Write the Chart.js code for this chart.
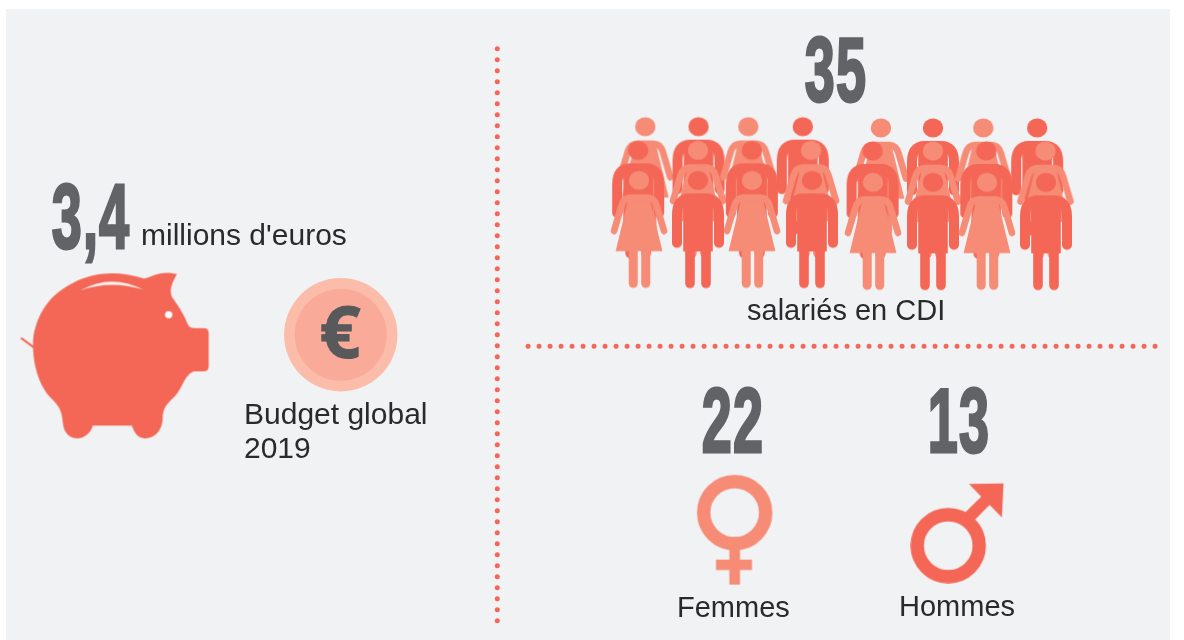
<!DOCTYPE html>
<html lang="fr">
<head>
    <meta charset="UTF-8">
    <title>Budget et salariés 2019</title>
    <script src="https://cdnjs.cloudflare.com/ajax/libs/Chart.js/4.4.1/chart.umd.js"></script>
    <style>
        html, body { margin: 0; padding: 0; background: #fff; overflow: hidden; }
        .stage { position: relative; width: 1184px; height: 640px; }
        .panel { position: absolute; left: 6px; top: 9px; width: 1164px; height: 631px; background: #f1f2f4; }
        canvas { position: absolute; left: 0; top: 0; }
        .big, .label, .euro { position: absolute; white-space: nowrap; }
        .big {
            font-family: "Liberation Sans Narrow", "Liberation Sans", sans-serif;
            font-weight: bold;
            font-size: 90px;
            line-height: 90px;
            color: #626366;
            -webkit-text-stroke: 3px #626366;
            transform: translateX(-50%) scaleX(0.6);
            letter-spacing: 2px;
        }
        .label {
            font-family: "Liberation Sans", Arial, sans-serif;
            font-size: 29px;
            line-height: 34px;
            color: #2a2a2c;
        }
        .label.wide { font-size: 30px; }
        .euro {
            font-family: "Open Sans", sans-serif;
            font-weight: bold;
            font-size: 72px;
            line-height: 72px;
            color: #58595b;
            -webkit-text-stroke: 1px #58595b;
            transform: translateX(-50%);
        }
    </style>
</head>
<body>
<div class="stage">
    <div class="panel"></div>
    <canvas id="infographic" width="1184" height="640"></canvas>
    <div class="big" id="v-budget" style="left:91px;top:172px"></div>
    <div class="big" id="v-total" style="left:836px;top:25px"></div>
    <div class="big" id="v-women" style="left:733px;top:376px"></div>
    <div class="big" id="v-men" style="left:959px;top:376px"></div>
    <div class="label wide" style="left:141px;top:218px">millions d'euros</div>
    <div class="label wide" style="left:244px;top:397px">Budget global<br>2019</div>
    <div class="label" style="left:747px;top:293px">salariés en CDI</div>
    <div class="label" style="left:677px;top:590px">Femmes</div>
    <div class="label" style="left:899px;top:589px">Hommes</div>
    <div class="euro" style="left:340px;top:294px">€</div>
</div>

<script>
    // headline figures
    const budgetMillions = [3.4];
    const staffTotal = [35];
    const staffWomen = [22];
    const staffMen = [13];

    // pictogram rows, axes run 0-100 across the panel
    const backRowX = [54.5, 59.0, 63.2, 67.8, 74.4, 78.8, 83.05, 87.6];
    const backRowY = [27.6, 27.6, 27.6, 27.6, 27.8, 27.8, 27.8, 27.8];
    const midRowX = [53.9, 58.95, 63.5, 68.5, 73.7, 78.8, 83.3, 88.3];
    const midRowY = [31.3, 31.3, 31.3, 31.3, 31.4, 31.4, 31.4, 31.4];
    const frontRowX = [53.97, 58.95, 63.51, 68.58, 73.73, 78.8, 83.36, 88.34];
    const frontRowY = [36.0, 36.0, 36.0, 36.0, 36.3, 36.3, 36.3, 36.3];

    // dotted dividers
    const dividerVX = [42.0, 42.0];
    const dividerVY = [7.6, 97.4];
    const dividerHX = [44.6, 98.1];
    const dividerHY = [54.1, 54.1];

    const DARK = '#f46756';
    const LIGHT = '#f68b76';

    function makeIcon(w, h, draw) {
        const c = document.createElement('canvas');
        c.width = w;
        c.height = h;
        draw(c.getContext('2d'));
        return c;
    }

    // figures are drawn around the head centre at (31, 11)
    const womanIcon = makeIcon(62, 122, function (ctx) {
        ctx.translate(31, 11);
        ctx.fillStyle = LIGHT;
        ctx.strokeStyle = LIGHT;
        ctx.lineCap = 'round';
        ctx.lineJoin = 'round';
        ctx.beginPath();
        ctx.ellipse(0, 0, 10.2, 9.6, 0, 0, Math.PI * 2);
        ctx.fill();
        // dress
        ctx.beginPath();
        ctx.moveTo(-10, 15);
        ctx.lineTo(10, 15);
        ctx.lineTo(23.4, 70.7);
        ctx.lineTo(-23.4, 70.7);
        ctx.closePath();
        ctx.fill();
        // arms
        ctx.lineWidth = 6.6;
        ctx.beginPath();
        ctx.moveTo(-25, 50.5);
        ctx.lineTo(-17.5, 25);
        ctx.quadraticCurveTo(-15, 17, -8, 17);
        ctx.lineTo(8, 17);
        ctx.quadraticCurveTo(15, 17, 17.5, 25);
        ctx.lineTo(25, 50.5);
        ctx.stroke();
        // legs
        ctx.lineWidth = 9;
        ctx.beginPath();
        ctx.moveTo(-5.8, 68);
        ctx.lineTo(-5.8, 103);
        ctx.moveTo(6.7, 68);
        ctx.lineTo(6.7, 103);
        ctx.stroke();
    });

    const manIcon = makeIcon(62, 122, function (ctx) {
        ctx.translate(31, 11);
        ctx.fillStyle = DARK;
        ctx.strokeStyle = DARK;
        ctx.lineCap = 'round';
        ctx.lineJoin = 'round';
        ctx.beginPath();
        ctx.ellipse(0, 0, 10.2, 9.6, 0, 0, Math.PI * 2);
        ctx.fill();
        // shoulders and arms
        ctx.lineWidth = 10;
        ctx.beginPath();
        ctx.moveTo(-21, 62.5);
        ctx.lineTo(-21, 34);
        ctx.quadraticCurveTo(-21, 18, -8, 18);
        ctx.lineTo(8, 18);
        ctx.quadraticCurveTo(21, 18, 21, 34);
        ctx.lineTo(21, 62.5);
        ctx.stroke();
        // trunk
        ctx.fillRect(-14.8, 15, 29.6, 56);
        // legs
        ctx.lineWidth = 9.6;
        ctx.lineCap = 'round';
        ctx.beginPath();
        ctx.moveTo(-8, 68);
        ctx.lineTo(-8, 103);
        ctx.moveTo(8, 68);
        ctx.lineTo(8, 103);
        ctx.stroke();
    });

    // pig outline traced at 3x, tail to snout
    const pigIcon = makeIcon(191, 169, function (ctx) {
        ctx.scale(1 / 3, 1 / 3);
        ctx.translate(-30, -305);
        ctx.strokeStyle = DARK;
        ctx.lineWidth = 6;
        ctx.beginPath();
        ctx.moveTo(35, 505);
        ctx.lineTo(75, 534);
        ctx.stroke();
        ctx.fillStyle = DARK;
        ctx.beginPath();
        ctx.moveTo(405, 327);
        ctx.bezierCurveTo(435, 318, 455, 302, 503, 313);
        ctx.bezierCurveTo(490, 335, 478, 360, 488, 382);
        ctx.bezierCurveTo(505, 405, 525, 435, 535, 463);
        ctx.quadraticCurveTo(540, 475, 555, 475);
        ctx.lineTo(583, 475);
        ctx.quadraticCurveTo(598, 475, 598, 490);
        ctx.lineTo(598, 590);
        ctx.quadraticCurveTo(598, 605, 583, 605);
        ctx.lineTo(555, 605);
        ctx.bezierCurveTo(530, 610, 520, 650, 503, 672);
        ctx.bezierCurveTo(480, 700, 462, 705, 460, 745);
        ctx.bezierCurveTo(458, 790, 430, 806, 405, 806);
        ctx.bezierCurveTo(385, 806, 372, 785, 368, 768);
        ctx.lineTo(250, 768);
        ctx.bezierCurveTo(245, 790, 225, 806, 205, 806);
        ctx.bezierCurveTo(180, 806, 162, 790, 160, 755);
        ctx.bezierCurveTo(157, 700, 125, 695, 105, 660);
        ctx.bezierCurveTo(75, 610, 68, 550, 72, 500);
        ctx.bezierCurveTo(85, 430, 120, 375, 190, 340);
        ctx.bezierCurveTo(260, 302, 340, 305, 405, 327);
        ctx.closePath();
        ctx.fill();
        // highlight and eye
        ctx.fillStyle = '#fbf3f0';
        ctx.beginPath();
        ctx.moveTo(213, 362);
        ctx.quadraticCurveTo(305, 310, 402, 360);
        ctx.quadraticCurveTo(305, 330, 213, 362);
        ctx.fill();
        ctx.fillStyle = '#ffffff';
        ctx.beginPath();
        ctx.arc(478, 435, 11, 0, Math.PI * 2);
        ctx.fill();
    });

    const venusIcon = makeIcon(78, 112, function (ctx) {
        ctx.translate(39, 39);
        ctx.strokeStyle = LIGHT;
        ctx.fillStyle = LIGHT;
        ctx.lineWidth = 13.4;
        ctx.beginPath();
        ctx.arc(0, 0, 31, 0, Math.PI * 2);
        ctx.stroke();
        ctx.fillRect(-5.3, 35, 10.6, 37);
        ctx.fillRect(-18.7, 47, 36, 10.4);
    });

    const marsIcon = makeIcon(100, 103, function (ctx) {
        ctx.translate(38, 65);
        ctx.strokeStyle = DARK;
        ctx.fillStyle = DARK;
        ctx.lineWidth = 13.4;
        ctx.beginPath();
        ctx.arc(0, 0, 31, 0, Math.PI * 2);
        ctx.stroke();
        // shaft and arrow head, traced at 3x around the ring centre
        ctx.scale(1 / 3, 1 / 3);
        ctx.translate(-866, -527);
        ctx.beginPath();
        ctx.moveTo(916, 428);
        ctx.lineTo(965, 380);
        ctx.lineTo(928, 342);
        ctx.lineTo(1032, 340);
        ctx.lineTo(1027, 442);
        ctx.lineTo(990, 405);
        ctx.lineTo(944, 451);
        ctx.closePath();
        ctx.fill();
    });

    function alternate(first, second) {
        return [first, second, first, second, first, second, first, second];
    }

    function figures(xs, ys, first, second, order) {
        return {
            data: xs.map(function (x, i) { return { x: x, y: ys[i] }; }),
            showLine: false,
            pointStyle: alternate(first, second),
            pointRadius: 1,
            order: order,
            clip: false
        };
    }

    function divider(xs, ys) {
        return {
            data: xs.map(function (x, i) { return { x: x, y: ys[i] }; }),
            showLine: true,
            borderColor: '#f4665a',
            borderWidth: 5,
            borderCapStyle: 'round',
            borderDash: [0, 11],
            pointRadius: 0,
            order: 1,
            clip: false
        };
    }

    function icon(x, y, style) {
        return { data: [{ x: x, y: y }], showLine: false, pointStyle: style, pointRadius: 1, order: 1, clip: false };
    }

    // plain circles for the coin
    function disc(x, y, r, color, order) {
        return { data: [{ x: x, y: y }], showLine: false, pointStyle: 'circle', pointRadius: r, pointBackgroundColor: color, pointBorderWidth: 0, order: order, clip: false };
    }

    document.getElementById('v-budget').textContent = String(budgetMillions[0]).replace('.', ',');
    document.getElementById('v-total').textContent = staffTotal[0];
    document.getElementById('v-women').textContent = staffWomen[0];
    document.getElementById('v-men').textContent = staffMen[0];

    new Chart(document.getElementById('infographic'), {
        type: 'scatter',
        data: {
            datasets: [
                divider(dividerVX, dividerVY),
                divider(dividerHX, dividerHY),
                icon(9.7, 55.6, pigIcon),
                disc(28.78, 52.3, 56.7, '#fbbca9', 6),
                disc(28.78, 52.3, 46, '#faaa99', 5),
                figures(backRowX, backRowY, womanIcon, manIcon, 4),
                figures(midRowX, midRowY, manIcon, womanIcon, 3),
                figures(frontRowX, frontRowY, womanIcon, manIcon, 2),
                icon(62.05, 82.75, venusIcon),
                icon(81.1, 83.15, marsIcon)
            ]
        },
        options: {
            responsive: false,
            animation: false,
            events: [],
            layout: { padding: 0, autoPadding: false },
            plugins: { legend: { display: false }, tooltip: { enabled: false } },
            scales: {
                x: { type: 'linear', min: 0, max: 100, display: false },
                y: { type: 'linear', min: 0, max: 100, reverse: true, display: false }
            }
        }
    });
</script>
</body>
</html>
